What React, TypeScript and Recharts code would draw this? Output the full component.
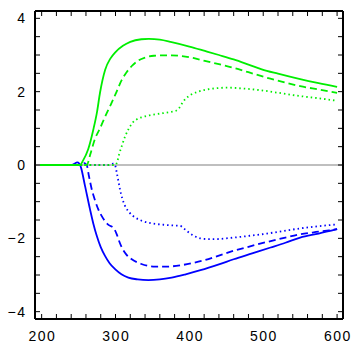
import { LineChart, Line, XAxis, YAxis, ReferenceLine } from "recharts";

// x ticks (every 20, labelled every 100) and y ticks (every 0.5, labelled every 2)
const xTicks = [200, 220, 240, 260, 280, 300, 320, 340, 360, 380, 400, 420, 440, 460, 480, 500, 520, 540, 560, 580, 600];
const yTicks = [-4, -3.5, -3, -2.5, -2, -1.5, -1, -0.5, 0, 0.5, 1, 1.5, 2, 2.5, 3, 3.5, 4];
const xLabels = [200, 300, 400, 500, 600];
const yLabels = [-4, -2, 0, 2, 4];

// green solid
const gsX = [198, 240, 252, 256, 263, 270, 275, 279, 286, 293, 300, 310, 320, 335, 345, 360, 376, 400, 421, 440, 460, 480, 498, 520, 550, 575, 600];
const gsY = [0, 0, 0, 0.12, 0.43, 0.97, 1.45, 1.97, 2.6, 2.9, 3.08, 3.25, 3.36, 3.43, 3.44, 3.42, 3.35, 3.23, 3.11, 3.0, 2.88, 2.74, 2.61, 2.49, 2.34, 2.23, 2.13];
// green dashed
const gdX = [198, 255, 261, 266, 272, 279, 286, 293, 300, 308, 315, 322, 331, 340, 352, 363, 376, 390, 405, 421, 440, 460, 480, 505, 530, 550, 575, 600];
const gdY = [0, 0, 0, 0.3, 0.7, 1.0, 1.32, 1.62, 1.93, 2.3, 2.53, 2.7, 2.85, 2.93, 2.98, 2.99, 2.99, 2.97, 2.92, 2.84, 2.75, 2.65, 2.53, 2.38, 2.25, 2.15, 2.06, 1.97];
// green dotted
const gtX = [198, 290, 300, 302, 305, 308.5, 313, 317.4, 323, 329, 337, 345, 360, 372, 382, 386, 392, 398, 403, 412, 421, 435, 451, 470, 496, 520, 550, 575, 600];
const gtY = [0, 0, 0, 0.07, 0.3, 0.52, 0.78, 0.97, 1.15, 1.25, 1.31, 1.35, 1.4, 1.44, 1.48, 1.55, 1.74, 1.86, 1.93, 2.0, 2.05, 2.09, 2.11, 2.09, 2.04, 1.97, 1.88, 1.82, 1.75];

// blue solid
const bsX = [198, 240, 245, 248, 251, 253, 258.7, 265.5, 270, 274.6, 280, 285.8, 292, 299.4, 308, 317.4, 330, 344.5, 360, 376, 395, 415, 440, 460, 485, 510, 530, 550, 575, 600];
const bsY = [0, 0, 0.04, 0.07, 0.04, -0.05, -0.57, -1.21, -1.6, -1.93, -2.24, -2.48, -2.68, -2.84, -2.98, -3.07, -3.12, -3.14, -3.12, -3.07, -2.98, -2.87, -2.71, -2.57, -2.41, -2.25, -2.12, -1.98, -1.87, -1.75];
// blue dashed
const bdX = [198, 250, 254, 257, 261, 264, 267.8, 272, 276.7, 281, 285.8, 291, 297, 301.7, 305, 308.5, 315, 322, 335, 353.6, 370, 389.8, 405, 421.4, 440, 459.8, 480, 505, 530, 550, 575, 600];
const bdY = [0, 0, 0.04, 0.06, 0, -0.3, -0.66, -0.95, -1.21, -1.38, -1.53, -1.64, -1.71, -1.89, -2.08, -2.25, -2.45, -2.57, -2.7, -2.77, -2.77, -2.73, -2.67, -2.59, -2.47, -2.34, -2.23, -2.1, -1.98, -1.89, -1.82, -1.75];
// blue dotted
const btX = [198, 290, 297, 299.4, 301.7, 304, 306, 309, 313, 319, 326.5, 337, 349, 365, 380, 387.5, 392, 396.6, 402, 407.9, 414.6, 425, 437, 455, 482, 505, 527.6, 550, 575, 600];
const btY = [0, 0, 0.04, 0, -0.21, -0.45, -0.66, -0.9, -1.12, -1.3, -1.43, -1.53, -1.59, -1.63, -1.65, -1.66, -1.72, -1.8, -1.88, -1.95, -2.0, -2.02, -2.02, -1.99, -1.93, -1.87, -1.8, -1.73, -1.67, -1.62];

const GREEN = "#00ee00";
const BLUE = "#0000ff";
const TICK = 5;
const FONT = { fontFamily: "Liberation Sans, Arial, sans-serif", fontSize: 14, letterSpacing: 1.5, fill: "#000" };

const pts = (xs: number[], ys: number[]) => xs.map((x, i) => ({ x, y: ys[i] }));

const fmt = (v: number) => (v < 0 ? `\u2212${Math.abs(v)}` : `${v}`);

function BottomTick({ x, y, payload }: any) {
  const v = payload.value;
  return (
    <g>
      <line x1={x} y1={y} x2={x} y2={y - TICK} stroke="#000" />
      {xLabels.includes(v) && (
        <text x={x + 0.75} y={y + 22} textAnchor="middle" style={FONT}>
          {v}
        </text>
      )}
    </g>
  );
}

function TopTick({ x, y }: any) {
  return <line x1={x} y1={y} x2={x} y2={y + TICK} stroke="#000" />;
}

function LeftTick({ x, y, payload }: any) {
  const v = payload.value;
  return (
    <g>
      <line x1={x} y1={y} x2={x + TICK} y2={y} stroke="#000" />
      {yLabels.includes(v) && (
        <text x={x - 8.5} y={y + 5} textAnchor="end" style={FONT}>
          {fmt(v)}
        </text>
      )}
    </g>
  );
}

function RightTick({ x, y }: any) {
  return <line x1={x} y1={y} x2={x - TICK} y2={y} stroke="#000" />;
}

export default function App() {
  const domainX: [number, number] = [191, 608];
  const domainY: [number, number] = [-4.2, 4.2];
  const axisLine = { stroke: "#000", strokeWidth: 2 };

  return (
    <div style={{ position: "absolute", left: 0, top: 0, width: 355, height: 355, background: "#fff" }}>
      <LineChart width={355} height={355} margin={{ top: 10, right: 11, bottom: 35, left: 34 }}>
        <XAxis xAxisId="b" type="number" dataKey="x" domain={domainX} allowDataOverflow ticks={xTicks} interval={0}
          height={1} tickSize={0} tickMargin={0} axisLine={axisLine} tick={<BottomTick />} />
        <XAxis xAxisId="t" orientation="top" type="number" dataKey="x" domain={domainX} allowDataOverflow ticks={xTicks} interval={0}
          height={1} tickSize={0} tickMargin={0} axisLine={axisLine} tick={<TopTick />} />
        <YAxis yAxisId="l" type="number" domain={domainY} allowDataOverflow ticks={yTicks} interval={0}
          width={1} tickSize={0} tickMargin={0} axisLine={axisLine} tick={<LeftTick />} />
        <YAxis yAxisId="r" orientation="right" type="number" domain={domainY} allowDataOverflow ticks={yTicks} interval={0}
          width={1} tickSize={0} tickMargin={0} axisLine={axisLine} tick={<RightTick />} />
        <ReferenceLine xAxisId="b" yAxisId="l" y={0} stroke="#808080" strokeWidth={1.2} />

        <Line xAxisId="b" yAxisId="l" data={pts(bsX, bsY)} dataKey="y" type="monotone" stroke={BLUE} strokeWidth={1.8} dot={false} isAnimationActive={false} />
        <Line xAxisId="b" yAxisId="l" data={pts(bdX, bdY)} dataKey="y" type="monotone" stroke={BLUE} strokeWidth={1.8} strokeDasharray="7 4" dot={false} isAnimationActive={false} />
        <Line xAxisId="b" yAxisId="l" data={pts(btX, btY)} dataKey="y" type="monotone" stroke={BLUE} strokeWidth={1.8} strokeDasharray="1.5 3" dot={false} isAnimationActive={false} />

        <Line xAxisId="b" yAxisId="l" data={pts(gsX, gsY)} dataKey="y" type="monotone" stroke={GREEN} strokeWidth={1.8} dot={false} isAnimationActive={false} />
        <Line xAxisId="b" yAxisId="l" data={pts(gdX, gdY)} dataKey="y" type="monotone" stroke={GREEN} strokeWidth={1.8} strokeDasharray="7 4" dot={false} isAnimationActive={false} />
        <Line xAxisId="b" yAxisId="l" data={pts(gtX, gtY)} dataKey="y" type="monotone" stroke={GREEN} strokeWidth={1.8} strokeDasharray="1.5 3" dot={false} isAnimationActive={false} />
      </LineChart>
    </div>
  );
}
